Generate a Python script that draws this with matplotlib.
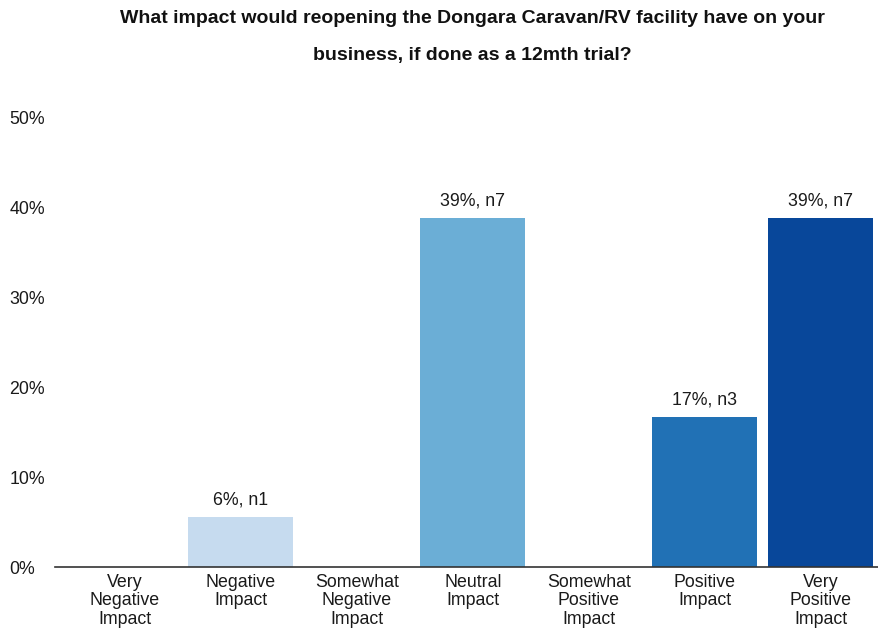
import matplotlib
matplotlib.use("Agg")
import matplotlib.pyplot as plt
import numpy as np

# ---------------------------------------------------------------------------
# Survey data (n = 18 responses)
# ---------------------------------------------------------------------------

categories = [
    "Very\nNegative\nImpact",
    "Negative\nImpact",
    "Somewhat\nNegative\nImpact",
    "Neutral\nImpact",
    "Somewhat\nPositive\nImpact",
    "Positive\nImpact",
    "Very\nPositive\nImpact",
]
counts = [0, 1, 0, 7, 0, 3, 7]
percents = [0.0, 5.6, 0.0, 38.9, 0.0, 16.7, 38.9]
bar_colors = ["#c6dbef", "#c6dbef", "#9ecae1", "#6baed6", "#4292c6", "#2171b5", "#08479a"]

title = ("What impact would reopening the Dongara Caravan/RV facility have on your\n"
         "business, if done as a 12mth trial?")

plt.rcParams["font.family"] = ["Liberation Sans", "DejaVu Sans"]
TEXT = "#1a1a1a"

fig = plt.figure(figsize=(8.79, 6.33), dpi=100)
ax = fig.add_axes([55 / 879, 66 / 633, 824 / 879, 449 / 633])

x = np.arange(len(categories))
ax.bar(x, percents, width=0.905, color=bar_colors, zorder=2)

for xi, p, n in zip(x, percents, counts):
    if n == 0:
        continue
    ax.annotate(f"{round(p)}%, n{n}", (xi, p), xytext=(0, 6),
                textcoords="offset points", ha="center", va="bottom",
                fontsize=12.8, color=TEXT)

ax.set_xlim(-0.6, 6.5)
ax.set_ylim(0, 50)
ax.set_yticks([0, 10, 20, 30, 40, 50])
ax.set_yticklabels([f"{v}%" for v in range(0, 51, 10)], fontsize=12.8, color=TEXT)
for lbl in ax.get_yticklabels():
    lbl.set_horizontalalignment("left")
ax.tick_params(axis="y", length=0, pad=33)

ax.set_xticks(x)
ax.set_xticklabels(categories, fontsize=12.8, color=TEXT, linespacing=1.1)
ax.tick_params(axis="x", length=0, pad=5)

for side in ("top", "right", "left"):
    ax.spines[side].set_visible(False)
ax.spines["bottom"].set_color("#333333")
ax.spines["bottom"].set_linewidth(1.2)

fig.text(472 / 879, 1 - 37 / 633, title, ha="center", va="center",
         fontsize=14, fontweight="bold", linespacing=2.6, color="#111111")

fig.savefig("out.png", dpi=100)
plt.close(fig)
